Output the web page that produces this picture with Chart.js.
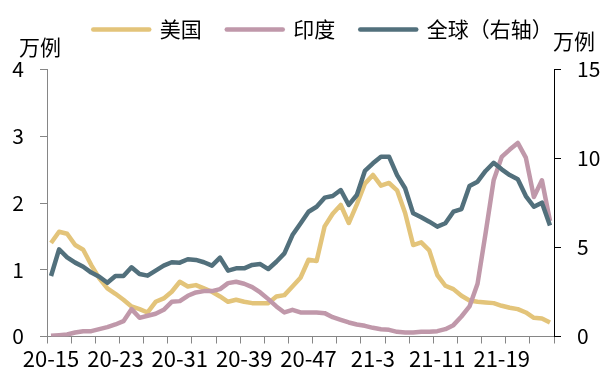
<!DOCTYPE html>
<html>
<head>
<meta charset="utf-8">
<script src="https://cdn.jsdelivr.net/npm/chart.js@4"></script>
<style>
  html, body { margin: 0; padding: 0; background: #fff; }
  .wrap { width: 608px; height: 387px; position: relative; }
</style>
</head>
<body>
<div class="wrap"><canvas id="myGraph"></canvas></div>
<script>
// 周次：2020年第15周 ~ 2021年第25周
const weeks = [
  "20-15", "20-16", "20-17", "20-18", "20-19", "20-20", "20-21", "20-22", "20-23", "20-24",
  "20-25", "20-26", "20-27", "20-28", "20-29", "20-30", "20-31", "20-32", "20-33", "20-34",
  "20-35", "20-36", "20-37", "20-38", "20-39", "20-40", "20-41", "20-42", "20-43", "20-44",
  "20-45", "20-46", "20-47", "20-48", "20-49", "20-50", "20-51", "20-52", "21-1", "21-2",
  "21-3", "21-4", "21-5", "21-6", "21-7", "21-8", "21-9", "21-10", "21-11", "21-12",
  "21-13", "21-14", "21-15", "21-16", "21-17", "21-18", "21-19", "21-20", "21-21", "21-22",
  "21-23", "21-24", "21-25",
];

// 美国（万例，左轴）
const usa = [
  1.40, 1.57, 1.54, 1.37, 1.30, 1.07, 0.87, 0.72, 0.64, 0.55,
  0.45, 0.41, 0.36, 0.52, 0.57, 0.67, 0.82, 0.75, 0.77, 0.72,
  0.67, 0.60, 0.52, 0.55, 0.52, 0.50, 0.50, 0.50, 0.60, 0.62,
  0.75, 0.88, 1.15, 1.13, 1.65, 1.84, 1.97, 1.70, 1.98, 2.29,
  2.42, 2.26, 2.30, 2.19, 1.85, 1.37, 1.41, 1.29, 0.92, 0.76,
  0.71, 0.61, 0.54, 0.52, 0.51, 0.50, 0.46, 0.43, 0.41, 0.36,
  0.28, 0.27, 0.21,
];

// 印度（万例，左轴）
const india = [
  0.01, 0.02, 0.03, 0.06, 0.08, 0.08, 0.11, 0.14, 0.18, 0.23,
  0.41, 0.28, 0.31, 0.34, 0.40, 0.52, 0.53, 0.61, 0.66, 0.68,
  0.68, 0.71, 0.80, 0.82, 0.79, 0.74, 0.66, 0.56, 0.45, 0.36,
  0.40, 0.36, 0.36, 0.36, 0.35, 0.29, 0.25, 0.21, 0.18, 0.16,
  0.13, 0.11, 0.10, 0.07, 0.06, 0.06, 0.07, 0.07, 0.08, 0.11,
  0.17, 0.30, 0.45, 0.79, 1.55, 2.34, 2.69, 2.80, 2.90, 2.68,
  2.09, 2.34, 1.73,
];

// 全球（万例，右轴）
const world = [
  3.40, 4.90, 4.45, 4.15, 3.92, 3.59, 3.36, 3.02, 3.40, 3.40,
  3.89, 3.51, 3.42, 3.70, 3.98, 4.17, 4.15, 4.34, 4.30, 4.17,
  3.98, 4.43, 3.70, 3.83, 3.83, 4.02, 4.07, 3.79, 4.20, 4.67,
  5.70, 6.35, 7.01, 7.29, 7.80, 7.89, 8.23, 7.39, 7.95, 9.30,
  9.73, 10.10, 10.10, 9.07, 8.33, 6.92, 6.70, 6.45, 6.17, 6.36,
  7.01, 7.16, 8.46, 8.70, 9.30, 9.76, 9.39, 9.07, 8.83, 7.89,
  7.29, 7.52, 6.23,
];

const leftTicks = [0, 1, 2, 3, 4];
const rightTicks = [0, 5, 10, 15];
const unit = "万例";

Chart.defaults.font.family = '"Noto Sans CJK SC", "Noto Sans", sans-serif';
Chart.defaults.font.size = 21;
Chart.defaults.color = "#000000";

// 图例：往右挪一点，和绘图区之间留点空
const legendTweak = {
  id: "legendTweak",
  beforeInit(chart) {
    const legend = chart.legend;
    const fit = legend.fit;
    legend.fit = function () {
      fit.call(this);
      this.height += 19.5;
    };
    const draw = legend.draw;
    legend.draw = function () {
      this.ctx.save();
      this.ctx.translate(19, 0);
      draw.call(this);
      this.ctx.restore();
    };
  },
};

// 两侧的单位
const unitLabels = {
  id: "unitLabels",
  afterDraw(chart) {
    const c = chart.ctx;
    c.save();
    c.font = '21px "Noto Sans CJK SC"';
    c.fillStyle = "#000";
    c.textBaseline = "middle";
    c.textAlign = "left";
    c.fillText(unit, 19, 47);
    c.fillText(unit, 553, 41);
    c.restore();
  },
};

const ctx = document.getElementById("myGraph");

new Chart(ctx, {
  type: "line",
  data: {
    labels: weeks,
    datasets: [
      {
        label: "美国",
        data: usa,
        yAxisID: "y",
        borderColor: "#e3c47a",
        backgroundColor: "#e3c47a",
        order: 3,
      },
      {
        label: "印度",
        data: india,
        yAxisID: "y",
        borderColor: "#c098aa",
        backgroundColor: "#c098aa",
        order: 2,
      },
      {
        label: "全球（右轴）",
        data: world,
        yAxisID: "y1",
        borderColor: "#52707c",
        backgroundColor: "#52707c",
        order: 1,
      },
    ],
  },
  options: {
    responsive: true,
    maintainAspectRatio: false,
    animation: false,
    layout: {
      padding: { left: 0, top: -6, right: 0, bottom: 0 },
    },
    elements: {
      point: { radius: 0 },
      line: {
        borderWidth: 4.5,
        tension: 0,
        borderJoinStyle: "round",
        borderCapStyle: "butt",
      },
    },
    plugins: {
      tooltip: { enabled: false },
      legend: {
        position: "top",
        labels: {
          usePointStyle: true,
          pointStyle: "line",
          pointStyleWidth: 56,
          padding: 25,
          color: "#000",
          sort: (a, b) => a.datasetIndex - b.datasetIndex,
          generateLabels: (chart) =>
            Chart.defaults.plugins.legend.labels.generateLabels(chart).map((item) => ({
              ...item,
              lineWidth: 4.5,
              lineCap: "round",
            })),
        },
      },
    },
    scales: {
      x: {
        type: "category",
        offset: true,
        afterFit: (scale) => {
          scale.height = 50.5;
        },
        border: { color: "#868686", width: 1 },
        grid: {
          offset: true,
          drawOnChartArea: false,
          tickLength: 7,
          color: (c) =>
            c.index === undefined || c.index % 3 === 0 ? "#868686" : "rgba(0,0,0,0)",
        },
        ticks: {
          autoSkip: false,
          maxRotation: 0,
          minRotation: 0,
          padding: 2,
          font: { size: 22 },
          callback: (val, i) => (i % 8 === 0 ? weeks[i] : ""),
        },
      },
      y: {
        position: "left",
        min: 0,
        max: 4,
        afterFit: (scale) => {
          scale.width = 47;
        },
        afterBuildTicks: (scale) => {
          scale.ticks = leftTicks.map((v) => ({ value: v }));
        },
        border: { color: "#868686", width: 1 },
        grid: { drawOnChartArea: false, tickLength: 7, color: "#868686" },
        ticks: { padding: 16 },
      },
      y1: {
        position: "right",
        min: 0,
        max: 15,
        afterFit: (scale) => {
          scale.width = 54;
        },
        afterBuildTicks: (scale) => {
          scale.ticks = rightTicks.map((v) => ({ value: v }));
        },
        border: { color: "#000000", width: 1 },
        grid: { drawOnChartArea: false, tickLength: 7, color: "#000000" },
        ticks: { padding: 16 },
      },
    },
  },
  plugins: [legendTweak, unitLabels],
});
</script>
</body>
</html>
